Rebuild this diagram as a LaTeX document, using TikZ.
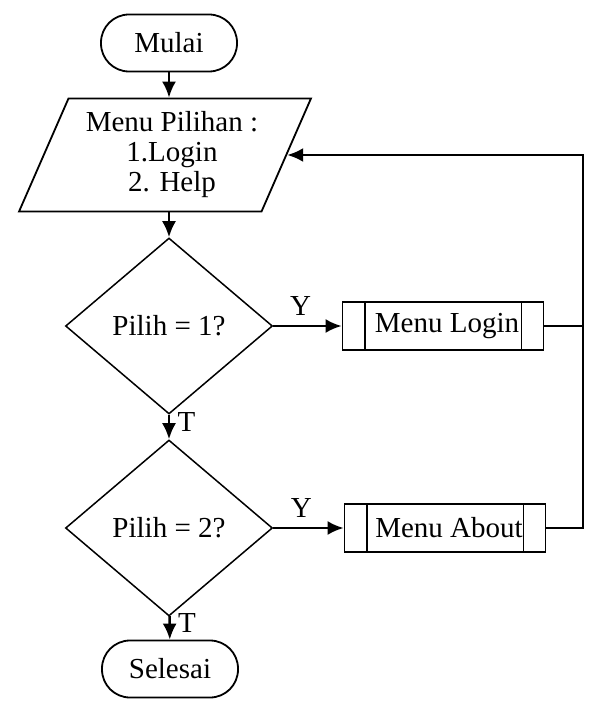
\documentclass[tikz,border=0pt]{standalone}
\usepackage{fontspec}
\setmainfont{Liberation Serif}
\usetikzlibrary{shapes.geometric,arrows.meta}
\begin{document}
\begin{tikzpicture}[x=1pt,y=-1pt,
    every node/.style={font=\fontsize{29}{30}\selectfont},
    terminal/.style={draw, rectangle, rounded corners=28pt, minimum width=136pt, minimum height=57pt, line width=1.8pt},
    inout/.style={draw, trapezium, trapezium left angle=62, trapezium right angle=118, trapezium stretches=true, minimum width=290pt, minimum height=113pt, align=center, line width=1.8pt},
    decision/.style={draw, diamond, minimum width=207pt, minimum height=176pt, inner sep=0pt, line width=1.5pt},
    process/.style={draw, rectangle, minimum width=201pt, minimum height=48pt, line width=1.8pt},
    flow/.style={-{Latex[length=16pt,width=14pt]}, line width=2.4pt}]
      \useasboundingbox (0,0) rectangle (609,711);
      \node[terminal] (mulai) at (169,43) {Mulai};
      \node[inout] (pilihan) at (165,155) {\hspace*{14pt}Menu Pilihan :\\\hspace*{14pt}1.Login\\\hspace*{14pt}2. Help};
      \node[decision] (pilih1) at (169,326) {Pilih = 1?};
      \node[decision] (pilih2) at (169,528) {Pilih = 2?};
      \node[terminal] (selesai) at (170,669) {Selesai};
      \node[process] (login) at (443,326) {\hspace*{8pt}Menu Login};
      \node[process] (about) at (445,528) {\hspace*{8pt}Menu About};
      \coordinate (balik) at (583,151);
      \draw[line width=1.8pt] ([xshift=23pt]login.north west) -- ([xshift=23pt]login.south west);
      \draw[line width=1.8pt] ([xshift=-23pt]login.north east) -- ([xshift=-23pt]login.south east);
      \draw[line width=1.8pt] ([xshift=23pt]about.north west) -- ([xshift=23pt]about.south west);
      \draw[line width=1.8pt] ([xshift=-23pt]about.north east) -- ([xshift=-23pt]about.south east);
      \begin{scope}[flow]
        \draw (mulai.south) -- (mulai.south |- pilihan.north);
        \draw (pilih1.north |- pilihan.south) -- (pilih1.north);
        \draw (pilih1) -- node[pos=0.4, above=6pt] {Y} (login);
        \draw (pilih1) -- node[pos=0.3, right=4pt] {T} (pilih2);
        \draw (pilih2) -- node[pos=0.4, above=6pt] {Y} (about);
        \draw (pilih2) -- node[pos=0.3, right=4pt] {T} (selesai);
        \draw (about.east) -- (about.east -| balik) |- (pilihan.right side);
      \end{scope}
      \draw[line width=2.4pt] (login.east) -- (login.east -| balik);
    \end{tikzpicture}
\end{document}
